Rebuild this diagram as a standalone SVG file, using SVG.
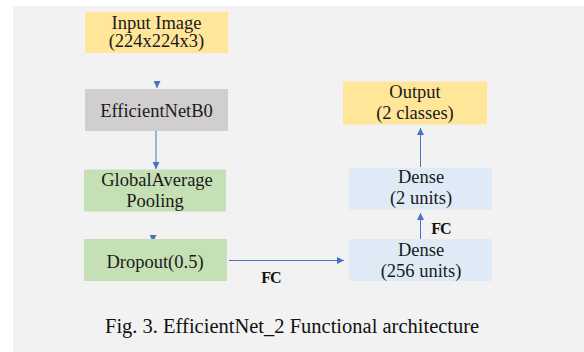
<svg xmlns="http://www.w3.org/2000/svg" width="584" height="352" viewBox="0 0 584 352">
<defs>
<marker id="ah" markerUnits="userSpaceOnUse" markerWidth="8" markerHeight="7" refX="7" refY="3.5" orient="auto">
<path d="M0,0 L7,3.5 L0,7 z" fill="#4472c4"/>
</marker>
<style>
.t{font-family:"Liberation Serif","Times New Roman",serif;font-size:18.5px;fill:#1a1a1a;text-anchor:middle}
.fc{font-family:"Liberation Serif","Times New Roman",serif;font-size:16px;font-weight:bold;fill:#111;text-anchor:middle;letter-spacing:-1px}
.cap{font-family:"Liberation Serif","Times New Roman",serif;font-size:20.5px;fill:#111}
.c{stroke:#4472c4;stroke-width:1;fill:none;marker-end:url(#ah)}
.y{fill:#ffe699}.g{fill:#d0cece}.gr{fill:#c5e0b4}.b{fill:#deebf7}
</style>
</defs>
<rect x="0" y="0" width="584" height="352" fill="#ffffff"/>
<rect x="13" y="6" width="571" height="346" fill="#f2f2f2"/>
<g id="connectors">
<path class="c" d="M157,81 L157,88"/>
<path class="c" d="M156,131 L156,169"/>
<path class="c" d="M153,235 L153,242"/>
<path class="c" d="M229,260.5 L344,260.5"/>
<path class="c" d="M420.5,239 L420.5,213"/>
<path class="c" d="M420.5,167 L420.5,128"/>
<text class="fc" x="271" y="283">FC</text>
<text class="fc" x="441" y="234">FC</text>
</g>
<g id="input"><rect class="y" x="85" y="12" width="143" height="41"/><text class="t" x="156.5" y="28.5">Input Image</text><text class="t" x="156.5" y="47">(224x224x3)</text></g>
<g id="efficientnet"><rect class="g" x="85" y="89" width="143" height="42"/><text class="t" x="156.5" y="117">EfficientNetB0</text></g>
<g id="gap"><rect class="gr" x="84" y="169.5" width="142" height="42"/><text class="t" x="157" y="186">GlobalAverage</text><text class="t" x="155" y="206.5">Pooling</text></g>
<g id="dropout"><rect class="gr" x="84" y="239" width="143" height="42"/><text class="t" x="155" y="268">Dropout(0.5)</text></g>
<g id="dense256"><rect class="b" x="349" y="239" width="143" height="42"/><text class="t" x="421" y="256">Dense</text><text class="t" x="421" y="276.5">(256 units)</text></g>
<g id="dense2"><rect class="b" x="349" y="167.5" width="143" height="42"/><text class="t" x="421" y="183">Dense</text><text class="t" x="421" y="204">(2 units)</text></g>
<g id="output"><rect class="y" x="343" y="81.5" width="144" height="43"/><text class="t" x="415" y="98">Output</text><text class="t" x="415" y="119">(2 classes)</text></g>
<text class="cap" x="105" y="333">Fig. 3. EfficientNet_2 Functional architecture</text>
</svg>
